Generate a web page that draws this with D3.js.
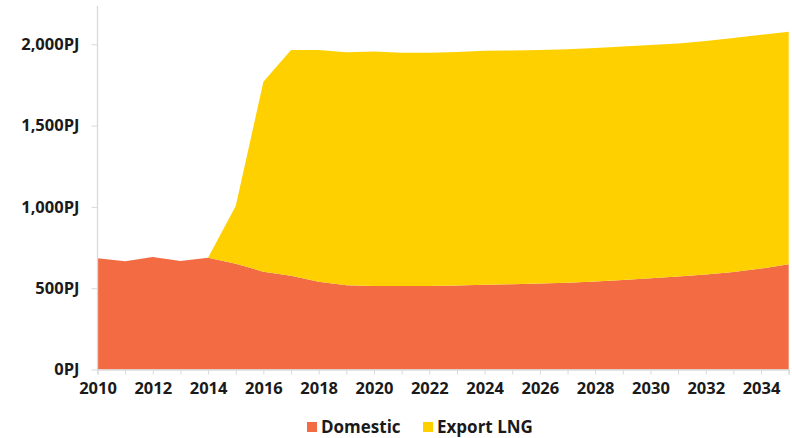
<!DOCTYPE html>
<html>
<head>
<meta charset="utf-8">
<script src="https://cdn.jsdelivr.net/npm/d3@7"></script>
<style>
  body { margin: 0; background: #fff; }
  text { font-family: "Open Sans", sans-serif; font-weight: 700; fill: #1a1a1a; }
</style>
</head>
<body>
<div id="chart"></div>
<script>
// data
const years = d3.range(2010, 2036);
const domestic = [684, 665, 692, 667, 688, 651, 601, 577, 540, 518, 514, 513, 513, 517, 521, 525, 529, 534, 541, 551, 561, 572, 585, 600, 621, 647];
const exportLng = [0, 0, 0, 0, 0, 355, 1169, 1388, 1425, 1433, 1441, 1435, 1435, 1436, 1439, 1437, 1436, 1436, 1437, 1435, 1434, 1433, 1435, 1438, 1437, 1430];
const yTicks = [0, 500, 1000, 1500, 2000];
const xLabels = d3.range(2010, 2035, 2);
const seriesNames = ["Domestic", "Export LNG"];
const colors = ["#F26B43", "#FFD000"];

const width = 792, height = 438;
const svg = d3.select("#chart").append("svg")
  .attr("width", width).attr("height", height);

const data = years.map((y, i) => ({ year: y, Domestic: domestic[i], "Export LNG": exportLng[i] }));

const x = d3.scaleLinear().domain([2010, 2035]).range([97.5, 788.7]);
const y = d3.scaleLinear().domain([0, 2000]).range([369.5, 44.3]);

const stack = d3.stack().keys(seriesNames);
const area = d3.area()
  .x(d => x(d.data.year))
  .y0(d => y(d[0]))
  .y1(d => y(d[1]));

svg.selectAll(".serie")
  .data(stack(data))
  .enter().append("path")
  .attr("class", "serie")
  .attr("fill", (d, i) => colors[i])
  .attr("d", area);

// y axis
const yAxis = d3.axisLeft(y).tickValues(yTicks).tickSize(6).tickPadding(12)
  .tickFormat(d => d3.format(",")(d) + "PJ");
const gy = svg.append("g").attr("transform", "translate(97.5,0)").call(yAxis);
gy.select(".domain").remove();
gy.selectAll(".tick line").attr("stroke", "#d9d9d9");
gy.selectAll(".tick text").style("font-size", "16.5px");
svg.append("line")
  .attr("x1", 97.5).attr("x2", 97.5).attr("y1", 6).attr("y2", 369.5)
  .attr("stroke", "#d9d9d9").attr("stroke-width", 1.3);

// x axis
const xAxis = d3.axisBottom(x).tickValues(years).tickSize(5).tickPadding(8)
  .tickFormat(d => xLabels.includes(d) ? d : "");
const gx = svg.append("g").attr("transform", "translate(0,369.5)").call(xAxis);
gx.select(".domain").attr("stroke", "#d9d9d9").attr("stroke-width", 1.3);
gx.selectAll(".tick line").attr("stroke", "#d9d9d9");
gx.selectAll(".tick text").style("font-size", "16.5px");

// legend
const legend = svg.append("g").attr("transform", "translate(307,427)");
const lx = [0, 116];
seriesNames.forEach((name, i) => {
  const g = legend.append("g").attr("transform", `translate(${lx[i]},0)`);
  g.append("rect").attr("x", 0).attr("y", -5).attr("width", 10).attr("height", 10).attr("fill", colors[i]);
  g.append("text").attr("x", 14).attr("y", 0).attr("dy", "0.35em")
    .style("font-size", "17px").text(name);
});
</script>
</body>
</html>
